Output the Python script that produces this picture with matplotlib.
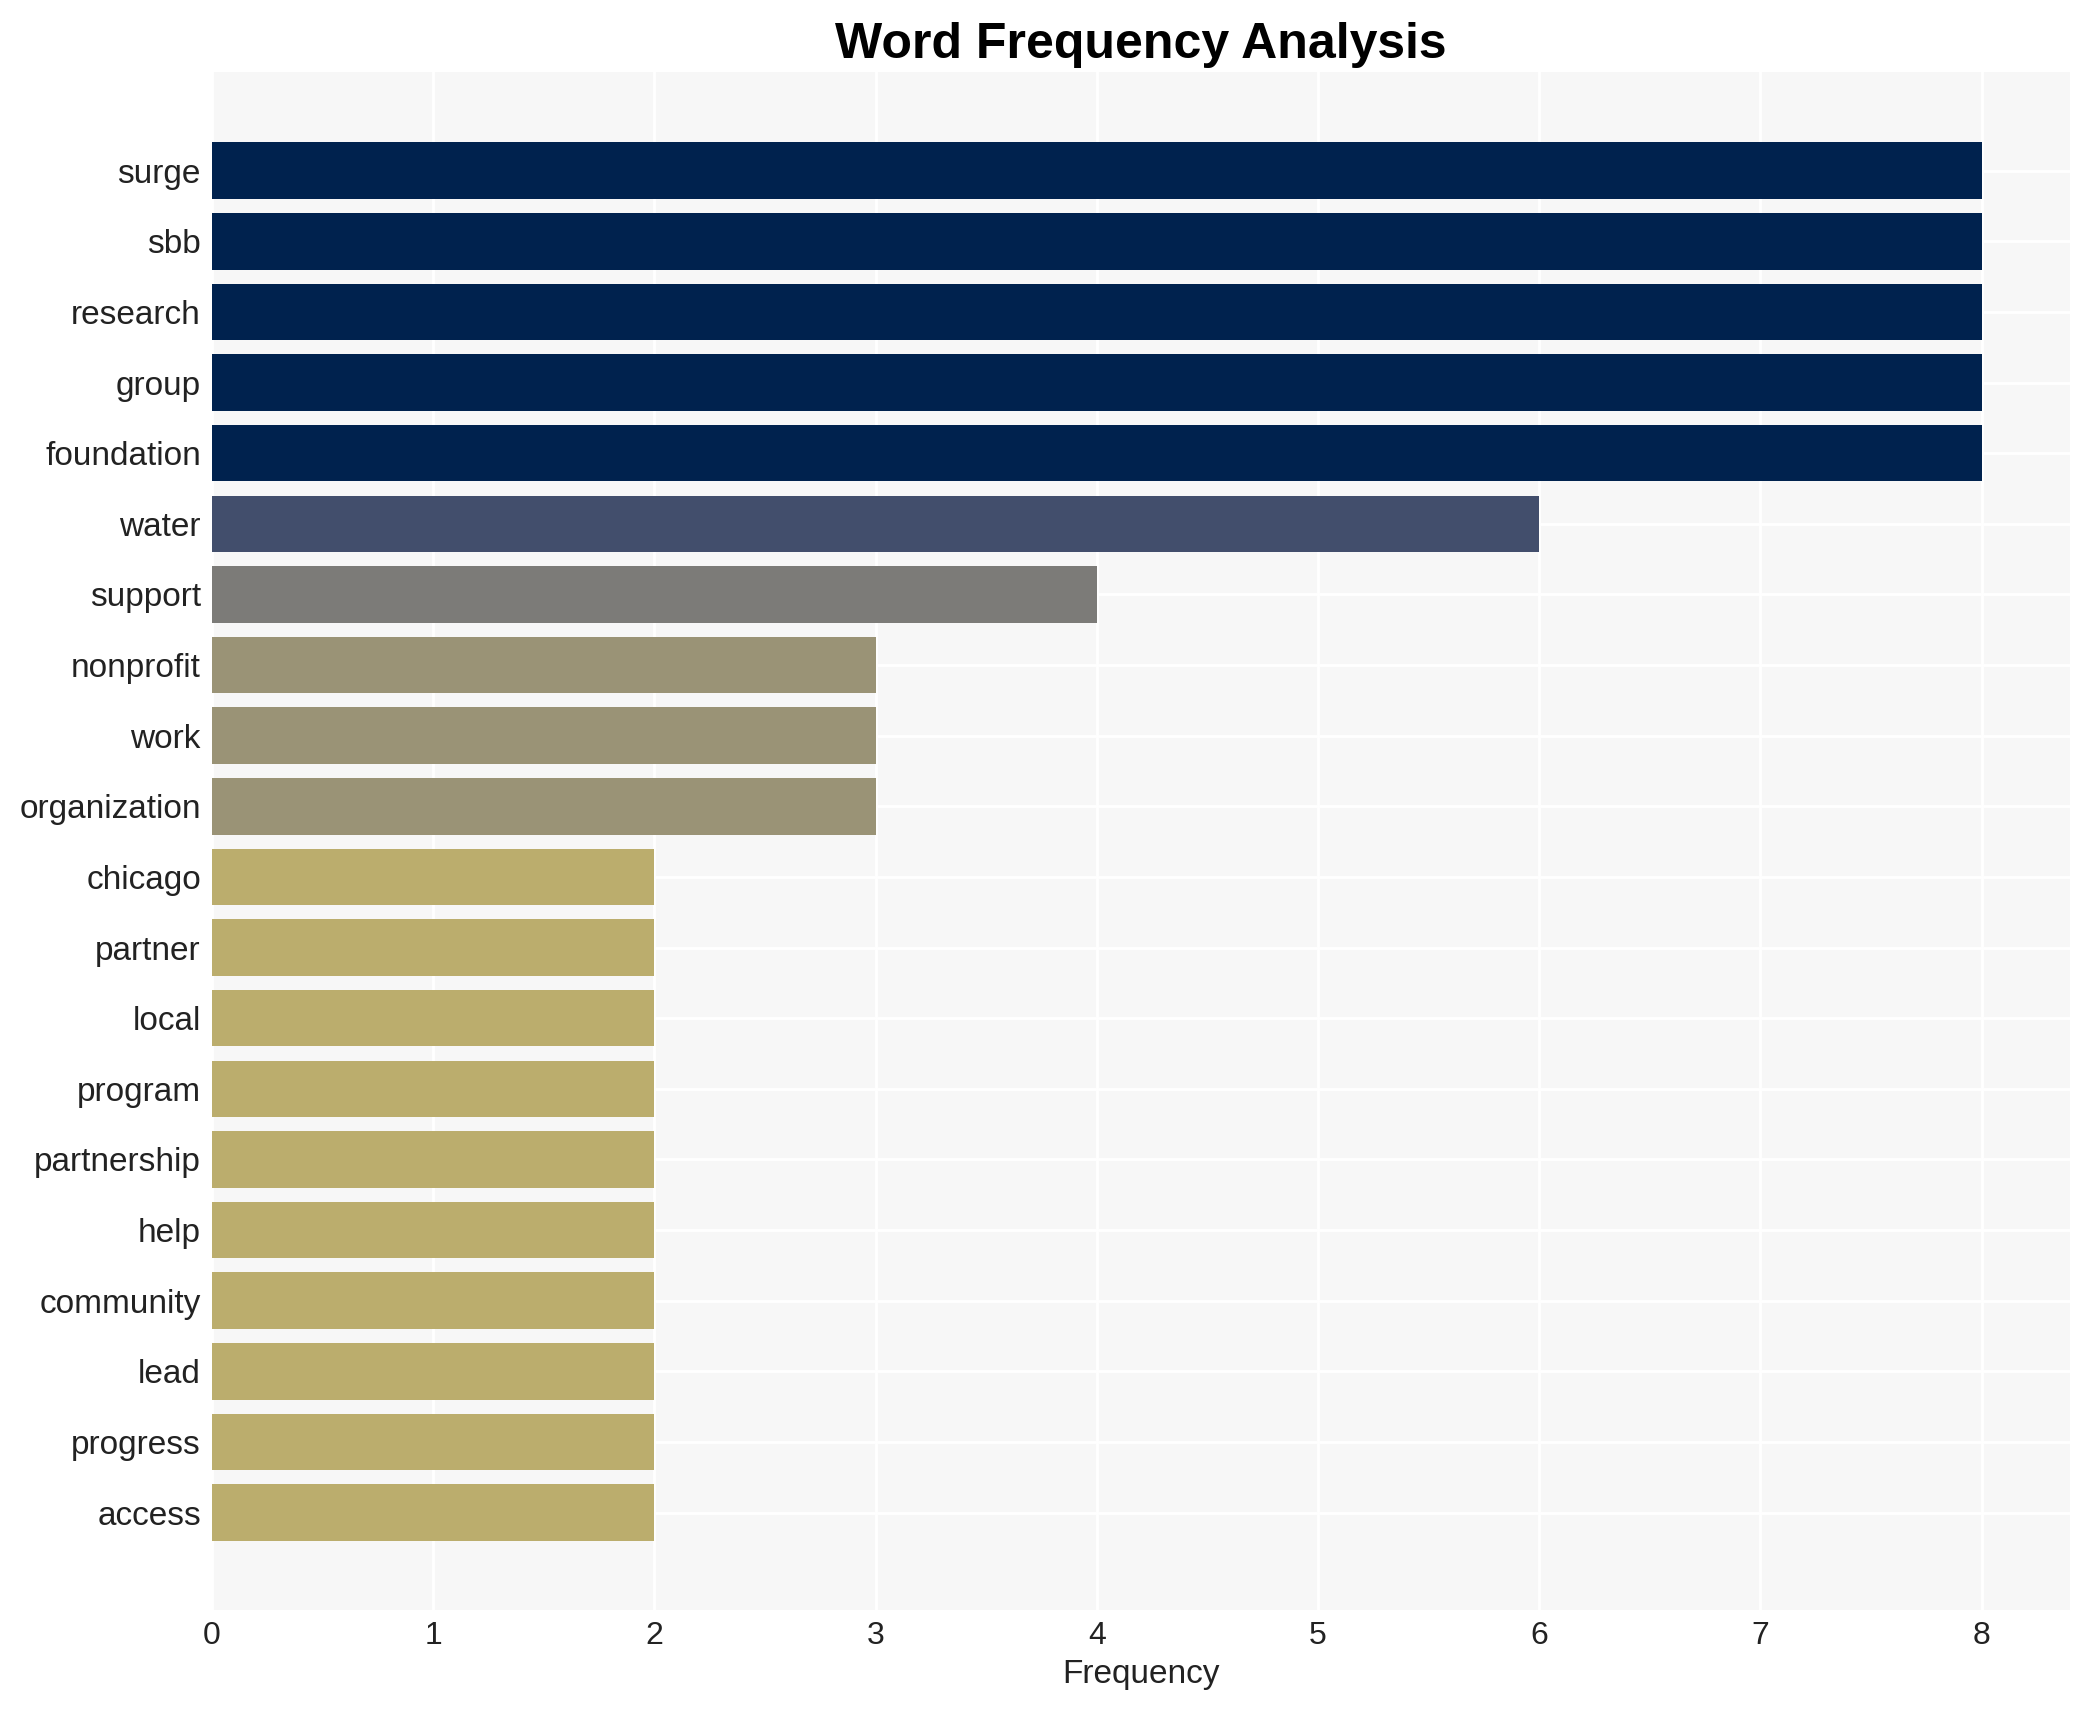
import matplotlib
matplotlib.use("Agg")
import matplotlib.pyplot as plt
import numpy as np

# 詞頻資料
words = ["surge", "sbb", "research", "group", "foundation", "water", "support",
         "nonprofit", "work", "organization", "chicago", "partner", "local",
         "program", "partnership", "help", "community", "lead", "progress", "access"]
counts = [8, 8, 8, 8, 8, 6, 4, 3, 3, 3, 2, 2, 2, 2, 2, 2, 2, 2, 2, 2]

plt.rcParams["font.family"] = ["Liberation Sans", "DejaVu Sans"]

fig = plt.figure(figsize=(10.455, 8.55), dpi=200)
ax = fig.add_axes([0.1014, 0.0585, 0.8886, 0.8995])
ax.set_facecolor("#F7F7F7")

# 顏色: cividis 反轉, 依最大值正規化
cmap = plt.get_cmap("cividis_r")
colors = [cmap(c / max(counts)) for c in counts]

y = np.arange(len(words))
ax.barh(y, counts, height=0.8, color=colors, zorder=3)

ax.set_yticks(y)
ax.set_yticklabels(words, fontsize=12, color="#222222")
ax.set_ylim(len(words) - 1 + 1.38, -1.4)
ax.set_xlim(0, 8.4)
ax.set_xticks(range(0, 9))
ax.tick_params(axis="x", labelsize=11.5, colors="#222222", length=0, pad=4)
ax.tick_params(axis="y", length=0, pad=4)

ax.grid(True, color="white", linewidth=1.0, zorder=0)
ax.set_axisbelow(True)
for s in ax.spines.values():
    s.set_visible(False)

ax.set_xlabel("Frequency", fontsize=12, color="#222222", labelpad=3)
ax.set_title("Word Frequency Analysis", fontsize=18, fontweight="bold", pad=5)

fig.savefig("out.png", dpi=200)
